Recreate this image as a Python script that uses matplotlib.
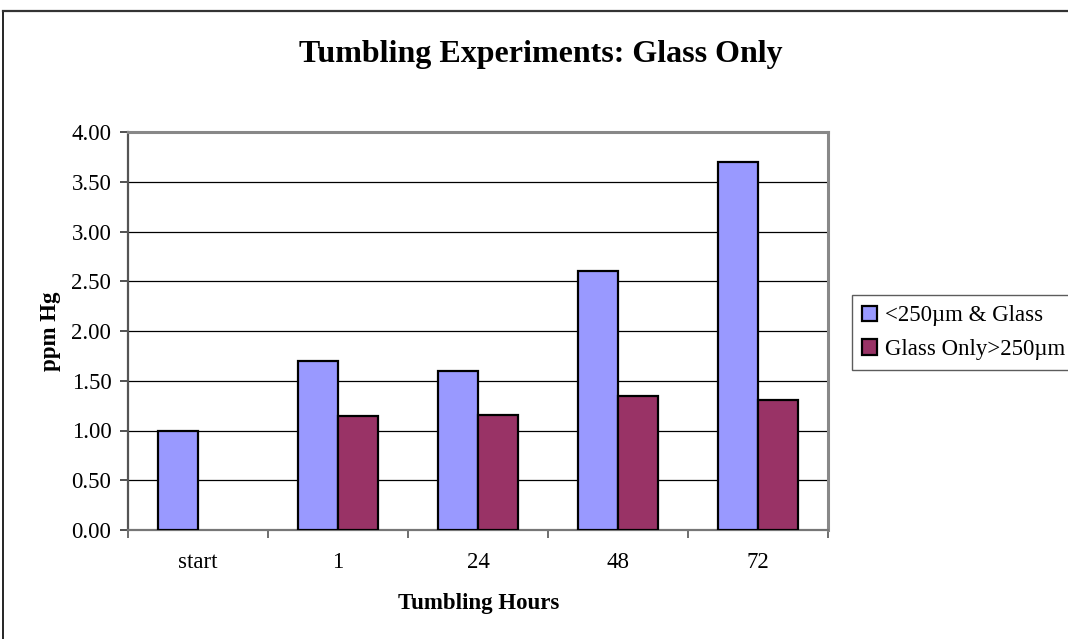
import matplotlib
matplotlib.use("Agg")
import matplotlib.pyplot as plt
import numpy as np
from matplotlib.lines import Line2D

categories = ["start", "1", "24", "48", "72"]
series_names = ["<250µm & Glass", "Glass Only>250µm"]
fine_glass = [1.00, 1.70, 1.60, 2.60, 3.70]
glass_only = [np.nan, 1.15, 1.16, 1.35, 1.31]
colors = ["#9999FF", "#993366"]

plt.rcParams['font.family'] = ['Liberation Serif', 'DejaVu Serif']

W, H = 1068, 639
fig = plt.figure(figsize=(W / 100, H / 100), dpi=100)

# outer chart frame (left, top; bottom/right outside image)
fig.add_artist(Line2D([3 / W, 3 / W], [0, 1 - 10.5 / H], transform=fig.transFigure,
                      color="#000000", lw=1.2))
fig.add_artist(Line2D([3 / W, 1], [1 - 10.5 / H, 1 - 10.5 / H], transform=fig.transFigure,
                      color="#333333", lw=1.6))

L, R, T, B = 128, 828, 132, 530
ax = fig.add_axes([L / W, 1 - B / H, (R - L) / W, (B - T) / H])

x = np.arange(len(categories))
bw = 0.286
ax.bar(x - bw / 2, fine_glass, bw, color=colors[0], edgecolor="black", linewidth=1.6,
       label=series_names[0], zorder=3)
ax.bar(x + bw / 2, glass_only, bw, color=colors[1], edgecolor="black", linewidth=1.6,
       label=series_names[1], zorder=3)

ax.set_xlim(-0.5, len(categories) - 0.5)
ax.set_ylim(0, 4)
yt = np.arange(0, 4.01, 0.5)
ax.set_yticks(yt)
ax.set_yticklabels([f"{v:.2f}" for v in yt], fontsize=16.5)
ax.yaxis.grid(True, color="black", lw=0.9, zorder=0)

ax.set_xticks(np.arange(-0.5, len(categories), 1.0))
ax.set_xticklabels([])
ax.set_xticks(x, minor=True)
ax.set_xticklabels(categories, minor=True, fontsize=16.5)
ax.tick_params(axis="x", which="major", direction="out", length=6, width=1.2, color="#555555")
ax.tick_params(axis="x", which="minor", length=0, pad=16)
ax.tick_params(axis="y", direction="out", length=6, width=1.2, color="#333333", pad=6)

for s in ["top", "right"]:
    ax.spines[s].set_color("#888888")
    ax.spines[s].set_linewidth(2.2)
ax.spines["left"].set_color("#555555")
ax.spines["left"].set_linewidth(1.6)
ax.spines["bottom"].set_color("#777777")
ax.spines["bottom"].set_linewidth(1.6)

ax.set_ylabel("ppm Hg", fontsize=16.5, fontweight="bold")
ax.yaxis.set_label_coords((61 - L) / (R - L), 0.5)
ax.set_xlabel("Tumbling Hours", fontsize=16.5, fontweight="bold")
ax.xaxis.set_label_coords((479 - L) / (R - L), (B - 593) / (B - T))

fig.text(541 / W, 1 - 62 / H, "Tumbling Experiments: Glass Only", fontsize=23,
         fontweight="bold", ha="center", va="baseline")

leg = fig.legend(loc="upper left", bbox_to_anchor=(851.5 / W, 1 - 295 / H),
                 fontsize=16.5, frameon=True, fancybox=False, edgecolor="#333333",
                 handlelength=0.65, handleheight=0.65, handletextpad=0.35,
                 labelspacing=0.55, borderpad=0.45, borderaxespad=0)
leg.get_frame().set_linewidth(1.0)

fig.savefig("out.png", dpi=100)
